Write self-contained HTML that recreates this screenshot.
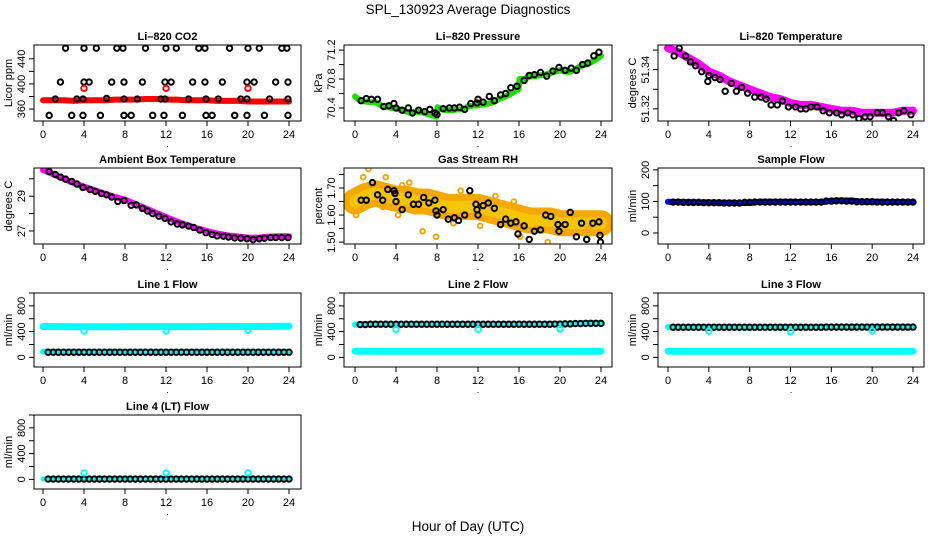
<!DOCTYPE html>
<html><head><meta charset="utf-8"><title>SPL_130923 Average Diagnostics</title>
<style>
html,body{margin:0;padding:0;background:#fff;}
svg{display:block;font-family:"Liberation Sans",Arial,sans-serif;}
</style></head>
<body>
<svg id="chart" width="936" height="540" viewBox="0 0 936 540" xmlns="http://www.w3.org/2000/svg">
<rect x="0" y="0" width="936" height="540" fill="#fff"/>
<text x="468" y="14" text-anchor="middle" font-size="13.5">SPL_130923  Average Diagnostics</text>
<text x="468" y="531" text-anchor="middle" font-size="13.5">Hour of Day (UTC)</text>
</svg>
<script>
// ---------- data ----------
const xTicks = [0,4,8,12,16,20,24];
const hourly = [0,1,2,3,4,5,6,7,8,9,10,11,12,13,14,15,16,17,18,19,20,21,22,23,24];

// CO2
const co2BandVals = [374,374,374,373,374,374,374,375,375,375,376,376,375,375,374,374,374,373,373,373,372,372,372,372,372];
const co2CircHours = [2.2,4,5.2,7.2,7.8,10,12,13,15.2,15.8,18.2,20,21.1,23.3,23.8, 1.7,4,4.5,6.7,7.9,9.7,11.9,12.5,14.6,15.8,17.5,19.9,20.6,22.7,23.9, 1.2,3.3,3.9,6.2,7.9,9.2,11.5,11.9,14.2,15.9,17.1,19.3,19.9,22.1,23.9, 0.6,2.8,3.9,5.6,7.9,8.6,10.7,11.8,13.6,15.9,16.5,18.7,19.9,21.6,23.9];
const co2CircVals = [457,457,457,457,457,457,457,457,457,457,457,457,457,457,457, 403,403,403,403,403,403,403,403,403,403,403,403,403,403,403, 376,376,376,377,376,376,376,376,376,376,376,376,376,376,376, 350,350,350,350,350,350,350,350,350,350,350,350,350,350,350];
const co2RedHours = [4,12,20];
const co2RedVals = [393,393,393];

// Pressure
const presBandHours = [0,0.5,1,1.5,2,2.5,3,3.5,4,4.5,5,5.5,6,6.5,7,7.5,7.95,8.05,8.5,9,9.5,10,10.5,11,11.5,12,12.5,13,13.5,14,14.5,15,15.5,15.95,16.05,16.5,17,17.5,18,18.5,19,19.5,20,20.5,21,21.5,22,22.5,23,23.5,24];
const presBandVals = [70.56,70.5,70.49,70.48,70.48,70.44,70.42,70.4,70.4,70.37,70.35,70.33,70.35,70.34,70.32,70.3,70.28,70.41,70.38,70.37,70.37,70.38,70.38,70.42,70.43,70.44,70.45,70.46,70.48,70.52,70.55,70.58,70.62,70.66,70.8,70.8,70.83,70.84,70.85,70.86,70.88,70.9,70.92,70.9,70.9,70.93,70.98,71.0,71.03,71.07,71.12];
const presCircHours = [0.6,1.1,1.6,2.2,2.8,3.3,3.8,4.0,4.6,5.2,5.6,6.2,6.8,7.3,7.8,8.0,8.6,9.2,9.7,10.2,10.7,11.3,11.9,12,12.5,13.1,13.6,14.2,14.7,15.2,15.8,16.5,17.0,17.5,18.1,18.7,19.3,19.9,20.5,21.1,21.6,22.2,22.7,23.3,23.8];
const presCircVals = [70.5,70.53,70.52,70.52,70.42,70.43,70.46,70.4,70.37,70.4,70.33,70.37,70.35,70.38,70.33,70.31,70.39,70.4,70.4,70.41,70.38,70.46,70.47,70.52,70.48,70.56,70.5,70.58,70.6,70.68,70.7,70.78,70.85,70.86,70.89,70.84,70.91,70.96,70.92,70.95,70.92,71.0,71.02,71.12,71.17];

// Li-820 Temperature
const tempBandVals = [51.351,51.349,51.346,51.343,51.339,51.337,51.334,51.332,51.330,51.328,51.326,51.325,51.323,51.322,51.322,51.321,51.320,51.319,51.319,51.318,51.318,51.318,51.318,51.319,51.319];
const tempCircHours = [0.6,1.1,1.7,2.2,2.7,3.3,3.9,4.0,4.6,5.1,5.6,6.2,6.7,7.2,7.8,8.5,9.1,9.6,10.1,10.7,11.2,11.8,12.5,13,13.5,14,14.6,15.2,15.8,16.5,17,17.6,18.1,18.7,19.3,19.8,20.5,21,21.6,22.1,22.6,23.1,23.8];
const tempCircVals = [51.347,51.351,51.347,51.344,51.342,51.339,51.334,51.337,51.336,51.335,51.329,51.333,51.329,51.331,51.328,51.326,51.326,51.325,51.322,51.322,51.324,51.321,51.321,51.320,51.320,51.321,51.321,51.319,51.318,51.318,51.317,51.318,51.317,51.315,51.316,51.316,51.318,51.318,51.316,51.314,51.318,51.319,51.317];

// Ambient Box Temperature
const ambBandVals = [30.5,30.25,30.0,29.75,29.55,29.35,29.15,28.95,28.8,28.55,28.3,28.05,27.8,27.55,27.35,27.15,27.0,26.85,26.75,26.68,26.62,26.62,26.67,26.7,26.7];
const ambCircHours = [0.6,1.2,1.7,2.2,2.8,3.3,3.9,4.6,5.1,5.7,6.2,6.7,7.3,7.9,8.6,9.1,9.7,10.2,10.7,11.3,11.9,12.5,13.1,13.6,14.2,14.7,15.3,15.9,16.5,17,17.6,18.1,18.7,19.3,19.9,20.5,21.1,21.6,22.2,22.7,23.3,23.9];
const ambCircVals = [30.42,30.25,30.1,29.98,29.85,29.7,29.5,29.38,29.28,29.15,29.08,28.95,28.7,28.75,28.48,28.5,28.3,28.15,28.0,27.85,27.72,27.52,27.4,27.35,27.28,27.2,27.05,26.9,26.8,26.72,26.7,26.65,26.6,26.58,26.55,26.5,26.55,26.58,26.62,26.62,26.62,26.62];

// Gas Stream RH
const rhBandVals = [1.65,1.67,1.68,1.67,1.66,1.66,1.65,1.65,1.64,1.63,1.63,1.63,1.63,1.62,1.61,1.6,1.59,1.58,1.58,1.58,1.57,1.57,1.57,1.57,1.57];
const rhOutHours = [0.1,0.8,1.3,3.0,2.7,4.2,5.3,6.6,7.9,9.6,12.2,13.7,15.5,17.9,18.8,16.1,22.8,10.3,4.6];
const rhOutVals = [1.6,1.74,1.77,1.74,1.63,1.6,1.72,1.54,1.52,1.57,1.56,1.67,1.65,1.55,1.5,1.52,1.55,1.69,1.71];
const rhCircHours = [0.6,1.1,1.7,2.2,2.7,3.2,3.8,3.9,4,4.6,5.2,5.7,6.2,6.7,7.2,7.8,7.9,8,8.6,9.1,9.7,10.1,10.7,11.2,11.8,11.9,12,12.5,13,13.6,14.2,14.7,15.2,15.7,15.9,16.5,17,17.5,18.1,18.6,19.1,19.8,19.9,20.5,21,21.6,22.1,22.6,23.2,23.8,23.9,23.95];
const rhCircVals = [1.655,1.655,1.72,1.675,1.655,1.695,1.69,1.68,1.65,1.62,1.675,1.64,1.64,1.665,1.645,1.655,1.615,1.6,1.62,1.585,1.59,1.58,1.6,1.69,1.64,1.62,1.6,1.635,1.645,1.625,1.565,1.585,1.57,1.575,1.53,1.56,1.51,1.54,1.545,1.6,1.595,1.565,1.54,1.565,1.61,1.52,1.57,1.51,1.57,1.575,1.525,1.5];

// Sample Flow
const sampBandVals = [99,98,98,97,97,96,96,95,95,99,99,99,99,98,98,98,102,103,103,99,99,99,98,98,98];
const sampCircVals = [98,98,97,97,96,96,95,95,97,98,98,98,98,98,98,98,101,102,101,99,99,98,98,98,98];

// Line flows (hourly)
const line1HighVals = [480,478,478,477,477,477,477,477,478,478,478,478,478,478,478,478,479,479,479,479,479,479,480,482,484];
const line1LowVals = [90,88,88,88,88,88,88,88,88,88,88,88,88,88,88,88,88,88,88,88,88,88,88,88,88];
const line1CircVals = [80,80,80,80,80,80,80,80,80,80,80,80,80,80,80,80,80,80,80,80,80,80,80,80,80];
const line2HighVals = [510,512,515,515,515,515,515,515,515,515,515,515,515,515,515,515,515,515,515,515,518,520,530,535,535];
const line2LowVals = [95,95,95,95,95,95,95,95,95,95,95,95,95,95,95,95,95,95,95,95,95,95,95,95,95];
const line2CircVals = [510,510,515,515,515,515,515,515,515,515,515,515,515,515,515,515,515,515,515,515,518,520,525,528,528];
const line3HighVals = [470,468,468,468,468,468,468,468,468,468,468,468,468,468,468,470,472,472,472,472,475,475,475,475,472];
const line3LowVals = [95,95,95,95,95,95,95,95,95,95,95,95,95,95,95,95,95,95,95,95,95,95,95,95,95];
const line3CircVals = [468,468,468,468,468,468,468,468,468,468,468,468,468,468,468,468,470,470,470,470,470,470,470,470,470];
const line4LowVals = [5,5,5,5,5,5,5,5,5,5,5,5,5,5,5,5,5,5,5,5,5,5,5,5,5];
const line4CircVals = [5,5,5,5,5,5,5,5,5,5,5,5,5,5,5,5,5,5,5,5,5,5,5,5,5];
const dipHours = [4,12,20];
const line1DipVals = [410,410,420];
const line2DipVals = [435,435,440];
const line3DipVals = [405,400,410];
const line4DipVals = [100,100,100];

// ---------- layout ----------
const NS = "http://www.w3.org/2000/svg";
const svg = document.getElementById('chart');
const cols = [{x0:34,x1:301,h0:43,h24:289},{x0:344,x1:612,h0:355,h24:601},{x0:658,x1:924,h0:668,h24:913}];
const rows = [{y0:45,y1:121},{y0:168,y1:244},{y0:293,y1:367},{y0:415,y1:489}];

function mk(tag, attrs, parent){
  const e = document.createElementNS(NS, tag);
  for (const k in attrs) e.setAttribute(k, attrs[k]);
  (parent||svg).appendChild(e);
  return e;
}
function halfGrid(){ const a=[]; for(let h=0.5; h<=24.01; h+=0.5) a.push(h); return a; }
function expandHourly(vals){
  const hs=halfGrid(); return hs.map(h=>vals[Math.min(24,Math.round(h))]);
}

function panel(ci, ri, cfg){
  const c = cols[ci], r = rows[ri];
  const g = mk('g', {});
  
  
  const xs = h => c.h0 + (c.h24 - c.h0) * h / 24;
  const ys = v => r.y1 - (v - cfg.ymin) / (cfg.ymax - cfg.ymin) * (r.y1 - r.y0);
  const clipId = 'clip' + ci + ri;
  const cp = mk('clipPath', {id: clipId}, g);
  mk('rect', {x:c.x0, y:r.y0, width:c.x1-c.x0, height:r.y1-r.y0}, cp);
  const plot = mk('g', {'clip-path':'url(#'+clipId+')'}, g);
  
  
  cfg.draw(plot, xs, ys);
  const box = mk('rect', {x:c.x0, y:r.y0, width:c.x1-c.x0, height:r.y1-r.y0, fill:'none', stroke:'#000', 'stroke-width':1}, g);
  
  
  const t = mk('text', {x:(c.x0+c.x1)/2, y:r.y0-5, 'text-anchor':'middle', 'font-size':11, 'font-weight':'bold'}, g);
  t.textContent = cfg.title;
  
  
  const xa = mk('g', {}, g);
  
  
  mk('line', {x1:xs(0), x2:xs(24), y1:r.y1, y2:r.y1, stroke:'#000'}, xa);
  xTicks.forEach(h=>{
    mk('line', {x1:xs(h), x2:xs(h), y1:r.y1, y2:r.y1+5, stroke:'#000'}, xa);
    const tl = mk('text', {x:xs(h), y:r.y1+17, 'text-anchor':'middle', 'font-size':11}, xa);
    tl.textContent = h;
    
    
  });
  const dot = mk('text', {x:(c.x0+c.x1)/2, y:r.y1+26, 'text-anchor':'middle', 'font-size':9}, xa);
  dot.textContent = '.';
  const ya = mk('g', {}, g);
  
  
  const tk = cfg.yTicks;
  mk('line', {x1:c.x0, x2:c.x0, y1:ys(tk[0]), y2:ys(tk[tk.length-1]), stroke:'#000'}, ya);
  tk.forEach(v=>{
    mk('line', {x1:c.x0-5, x2:c.x0, y1:ys(v), y2:ys(v), stroke:'#000'}, ya);
  });
  cfg.yLabels.forEach((lab,i)=>{
    const v = cfg.yLabelVals[i];
    const tl = mk('text', {x:c.x0-9, y:ys(v), 'text-anchor':'middle', 'font-size':11, transform:'rotate(-90 '+(c.x0-9)+' '+ys(v)+')'}, ya);
    tl.textContent = lab;
    
    
  });
  const yt = mk('text', {x:c.x0-22, y:(r.y0+r.y1)/2, 'text-anchor':'middle', 'font-size':11, transform:'rotate(-90 '+(c.x0-22)+' '+((r.y0+r.y1)/2)+')'}, g);
  yt.textContent = cfg.ylab;
  
  
}

function band(parent, xs, ys, hours, vals, color, width, name){
  const d = hours.map((h,i)=>(i?'L':'M')+xs(h).toFixed(1)+' '+ys(vals[i]).toFixed(1)).join(' ');
  const p = mk('path', {d:d, fill:'none', stroke:color, 'stroke-width':width, 'stroke-linecap':'round', 'stroke-linejoin':'round'}, parent);
  
  
}
function circles(parent, xs, ys, hours, vals, color, name, rad, sw){
  hours.forEach((h,i)=>{
    const e = mk('circle', {cx:xs(h), cy:ys(vals[i]), r:rad||2.7, fill:'none', stroke:color, 'stroke-width':sw||2}, parent);
    
    
  });
}

const flowTicks = [0,200,400,600,800,1000];
const flowCfg = (name,title,draw)=>({name,title,ylab:'ml/min',ymin:-150,ymax:1000,yTicks:flowTicks,yLabels:['0','400','800'],yLabelVals:[0,400,800],draw});
const half = halfGrid();

panel(0,0,{name:'co2-panel',title:'Li–820 CO2',ylab:'Licor ppm',ymin:341,ymax:462,yTicks:[360,380,400,420,440],yLabels:['360','400','440'],yLabelVals:[360,400,440],
  draw:(p,xs,ys)=>{
    band(p,xs,ys,hourly,co2BandVals,'#ff0000',6,'co2-red-band');
    circles(p,xs,ys,co2CircHours,co2CircVals,'#000','co2-point');
    circles(p,xs,ys,co2RedHours,co2RedVals,'#ff0000','co2-red-point');
  }});
panel(1,0,{name:'pressure-panel',title:'Li–820 Pressure',ylab:'kPa',ymin:70.22,ymax:71.27,yTicks:[70.4,70.6,70.8,71.0,71.2],yLabels:['70.4','70.8','71.2'],yLabelVals:[70.4,70.8,71.2],
  draw:(p,xs,ys)=>{
    band(p,xs,ys,presBandHours,presBandVals,'#22dd00',6,'pressure-green-band');
    circles(p,xs,ys,presCircHours,presCircVals,'#000','pressure-point');
  }});
panel(2,0,{name:'temperature-panel',title:'Li–820 Temperature',ylab:'degrees C',ymin:51.3138,ymax:51.3526,yTicks:[51.32,51.33,51.34,51.35],yLabels:['51.32','51.34'],yLabelVals:[51.32,51.34],
  draw:(p,xs,ys)=>{
    band(p,xs,ys,hourly,tempBandVals,'#ff00ff',8,'temperature-magenta-band');
    circles(p,xs,ys,tempCircHours,tempCircVals,'#000','temperature-point');
  }});
panel(0,1,{name:'ambient-panel',title:'Ambient Box Temperature',ylab:'degrees C',ymin:26.25,ymax:30.62,yTicks:[27,28,29,30],yLabels:['27','29'],yLabelVals:[27,29],
  draw:(p,xs,ys)=>{
    band(p,xs,ys,hourly,ambBandVals,'#ff00ff',6,'ambient-magenta-band');
    circles(p,xs,ys,ambCircHours,ambCircVals,'#000','ambient-point');
  }});
panel(1,1,{name:'rh-panel',title:'Gas Stream RH',ylab:'percent',ymin:1.493,ymax:1.774,yTicks:[1.5,1.55,1.6,1.65,1.7,1.75],yLabels:['1.50','1.60','1.70'],yLabelVals:[1.5,1.6,1.7],
  draw:(p,xs,ys)=>{
    band(p,xs,ys,hourly,rhBandVals,'#f5a800',26,'rh-orange-band');
    band(p,xs,ys,hourly,rhBandVals,'#f7c400',12,'rh-yellow-core');
    circles(p,xs,ys,rhOutHours,rhOutVals,'#f5a000','rh-outlier',2.4,1.8);
    circles(p,xs,ys,rhCircHours,rhCircVals,'#000','rh-point');
  }});
panel(2,1,{name:'sample-flow-panel',title:'Sample Flow',ylab:'ml/min',ymin:-35,ymax:206,yTicks:[0,50,100,150,200],yLabels:['0','100','200'],yLabelVals:[0,100,200],
  draw:(p,xs,ys)=>{
    band(p,xs,ys,hourly,sampBandVals,'#0000ee',6,'sample-flow-blue-band');
    circles(p,xs,ys,half,expandHourly(sampCircVals),'#000','sample-flow-point');
  }});
panel(0,2,flowCfg('line1-panel','Line 1 Flow',(p,xs,ys)=>{
  band(p,xs,ys,hourly,line1HighVals,'#00ffff',7,'line1-high-band');
  band(p,xs,ys,hourly,line1LowVals,'#00ffff',6,'line1-low-band');
  circles(p,xs,ys,half,expandHourly(line1CircVals),'#000','line1-point');
  circles(p,xs,ys,dipHours,line1DipVals,'#00ffff','line1-dip-point');
}));
panel(1,2,flowCfg('line2-panel','Line 2 Flow',(p,xs,ys)=>{
  band(p,xs,ys,hourly,line2HighVals,'#00ffff',6,'line2-high-band');
  band(p,xs,ys,hourly,line2LowVals,'#00ffff',7,'line2-low-band');
  circles(p,xs,ys,half,expandHourly(line2CircVals),'#000','line2-point');
  circles(p,xs,ys,dipHours,line2DipVals,'#00ffff','line2-dip-point');
}));
panel(2,2,flowCfg('line3-panel','Line 3 Flow',(p,xs,ys)=>{
  band(p,xs,ys,hourly,line3HighVals,'#00ffff',6,'line3-high-band');
  band(p,xs,ys,hourly,line3LowVals,'#00ffff',7,'line3-low-band');
  circles(p,xs,ys,half,expandHourly(line3CircVals),'#000','line3-point');
  circles(p,xs,ys,dipHours,line3DipVals,'#00ffff','line3-dip-point');
}));
panel(0,3,flowCfg('line4-panel','Line 4 (LT) Flow',(p,xs,ys)=>{
  band(p,xs,ys,hourly,line4LowVals,'#00ffff',5,'line4-low-band');
  circles(p,xs,ys,half,expandHourly(line4CircVals),'#000','line4-point');
  circles(p,xs,ys,dipHours,line4DipVals,'#00ffff','line4-spike-point');
}));
</script>
</body></html>
